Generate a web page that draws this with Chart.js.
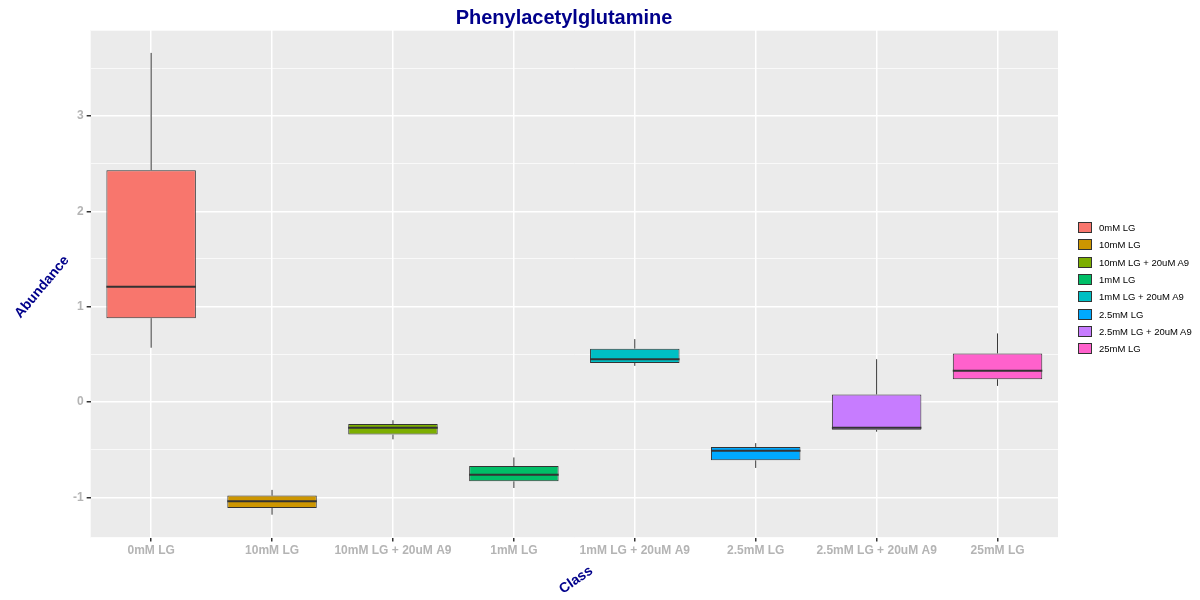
<!DOCTYPE html>
<html><head><meta charset="utf-8">
<script src="https://cdn.jsdelivr.net/npm/chart.js@4"></script>
<style>
body{margin:0;background:#fff;font-family:Arial,"Liberation Sans",sans-serif}
#wrap{position:relative;width:1200px;height:600px}
#legend{position:absolute;left:1078px;top:219px;font-size:9.5px;color:#000}
#legend div{display:flex;align-items:center;height:17.3px}
#legend span.k{display:inline-block;width:12px;height:9px;border:1px solid #333;margin-right:7px}
</style></head>
<body><div id="wrap"><canvas id="c" width="1200" height="600"></canvas><div id="legend"></div></div>
<script>
const classes = ['0mM LG','10mM LG','10mM LG + 20uM A9','1mM LG','1mM LG + 20uM A9','2.5mM LG','2.5mM LG + 20uM A9','25mM LG'];
const mins    = [0.57,-1.18,-0.39,-0.90,0.38,-0.69,-0.31,0.17];
const q1s     = [0.88,-1.11,-0.34,-0.83,0.41,-0.61,-0.29,0.24];
const medians = [1.21,-1.04,-0.27,-0.76,0.45,-0.51,-0.27,0.33];
const q3s     = [2.43,-0.98,-0.23,-0.67,0.56,-0.47,0.08,0.51];
const maxs    = [3.66,-0.92,-0.19,-0.58,0.66,-0.43,0.45,0.72];
const colors  = ['#F8766D','#CD9600','#7CAE00','#00BE67','#00BFC4','#00A9FF','#C77CFF','#FF61CC'];

const leg = document.getElementById('legend');
classes.forEach((c, i) => {
    const d = document.createElement('div');
    d.innerHTML = '<span class="k" style="background:' + colors[i] + '"></span>' + c;
    leg.appendChild(d);
});

const panel = {
    id: 'panel',
    beforeDraw(chart) {
        const a = chart.chartArea, ctx = chart.ctx;
        ctx.save();
        ctx.fillStyle = '#EBEBEB';
        ctx.fillRect(a.left, a.top, a.right - a.left, a.bottom - a.top);
        ctx.restore();
    },
    afterDatasetsDraw(chart) {
        const ctx = chart.ctx, y = chart.scales.y;
        const meta = chart.getDatasetMeta(0);
        ctx.save();
        meta.data.forEach((bar, i) => {
            const x = bar.x, w = bar.width;
            ctx.strokeStyle = '#333';
            ctx.lineWidth = 1;
            ctx.beginPath();
            ctx.moveTo(x, y.getPixelForValue(q3s[i]));
            ctx.lineTo(x, y.getPixelForValue(maxs[i]));
            ctx.moveTo(x, y.getPixelForValue(q1s[i]));
            ctx.lineTo(x, y.getPixelForValue(mins[i]));
            ctx.stroke();
            ctx.lineWidth = 2;
            ctx.beginPath();
            ctx.moveTo(x - w / 2, y.getPixelForValue(medians[i]));
            ctx.lineTo(x + w / 2, y.getPixelForValue(medians[i]));
            ctx.stroke();
        });
        // axis titles, slanted like the original
        ctx.fillStyle = '#00008B';
        ctx.font = 'bold 14px Arial';
        ctx.textAlign = 'center';
        ctx.textBaseline = 'middle';
        ctx.save();
        ctx.translate(42, 287);
        ctx.rotate(-50 * Math.PI / 180);
        ctx.fillText('Abundance', 0, 0);
        ctx.restore();
        ctx.save();
        ctx.translate(576, 580);
        ctx.rotate(-35 * Math.PI / 180);
        ctx.fillText('Class', 0, 0);
        ctx.restore();
        ctx.restore();
    }
};

new Chart(document.getElementById('c'), {
    type: 'bar',
    data: {
        labels: classes,
        datasets: [{
            data: classes.map((c, i) => [q1s[i], q3s[i]]),
            backgroundColor: colors,
            borderColor: '#333',
            borderWidth: 1,
            borderSkipped: false,
            barPercentage: 0.74,
            categoryPercentage: 1
        }]
    },
    options: {
        responsive: false,
        animation: false,
        layout: { padding: { left: 70, right: 142, bottom: 40, top: 0 } },
        plugins: {
            legend: { display: false },
            tooltip: { enabled: false },
            title: {
                display: true,
                text: 'Phenylacetylglutamine',
                color: '#00008B',
                font: { size: 20, weight: 'bold', family: 'Arial' },
                padding: { top: 6, bottom: 0 }
            }
        },
        scales: {
            x: {
                grid: { color: '#fff', lineWidth: 1.5, offset: false, drawTicks: true, tickLength: 4, tickColor: '#333' },
                border: { display: false },
                ticks: { color: '#B4B4B4', font: { size: 12, weight: 'bold', family: 'Arial' }, maxRotation: 0, autoSkip: false, padding: 2 }
            },
            y: {
                min: -1.42, max: 3.9,
                grid: {
                    color: '#fff',
                    lineWidth: ctx => (ctx.tick && Number.isInteger(ctx.tick.value)) ? 1.5 : 0.7,
                    tickLength: 4, tickColor: ctx => (ctx.tick && Number.isInteger(ctx.tick.value)) ? '#333' : 'rgba(0,0,0,0)'
                },
                border: { display: false },
                ticks: {
                    stepSize: 0.5,
                    color: '#B4B4B4',
                    font: { size: 12, weight: 'bold', family: 'Arial' },
                    callback: v => Number.isInteger(v) ? v : ''
                }
            }
        }
    },
    plugins: [panel]
});
</script>
</body></html>
